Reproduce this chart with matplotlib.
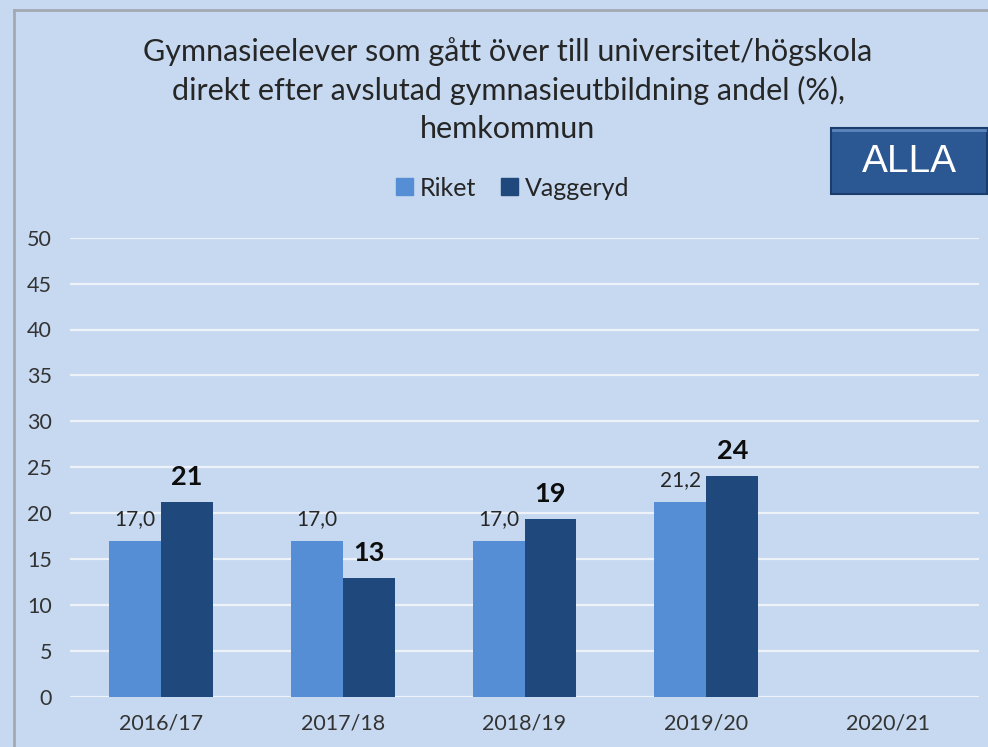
import matplotlib
matplotlib.use("Agg")
import matplotlib.pyplot as plt
from matplotlib.patches import Rectangle, FancyBboxPatch
from matplotlib.lines import Line2D
import numpy as np

# Data
years = ["2016/17", "2017/18", "2018/19", "2019/20", "2020/21"]
riket = [17.0, 17.0, 17.0, 21.2, None]
vaggeryd = [21.2, 12.9, 19.4, 24.0, None]
series_names = ["Riket", "Vaggeryd"]
yticks = list(range(0, 55, 5))

title = ("Gymnasieelever som gått över till universitet/högskola\n"
         "direkt efter avslutad gymnasieutbildning andel (%),\n"
         "hemkommun")
badge_text = "ALLA"

# Styling
bg = "#c6d9f0"
c_riket = "#558ed5"
c_vagg = "#1f497d"
txt = "#262626"
font = ["Lato", "DejaVu Sans"]
plt.rcParams["font.family"] = font

W, H = 988, 747
fig = plt.figure(figsize=(W / 100, H / 100), dpi=100, facecolor=bg)

def fx(px):
    return px / W

def fy(py):
    return 1 - py / H

ax = fig.add_axes([fx(70), fy(696.7), fx(979) - fx(70), fy(237.7) - fy(696.7)])
ax.set_facecolor(bg)

x = np.arange(len(years))
bw = 0.286
r_vals = np.array([np.nan if v is None else v for v in riket])
v_vals = np.array([np.nan if v is None else v for v in vaggeryd])
ax.bar(x - bw / 2, r_vals, width=bw, color=c_riket, zorder=3, label=series_names[0])
ax.bar(x + bw / 2, v_vals, width=bw, color=c_vagg, zorder=3, label=series_names[1])

for xi, rv, vv in zip(x, riket, vaggeryd):
    if rv is not None:
        ax.annotate(f"{rv:.1f}".replace(".", ","), (xi - bw / 2, rv),
                    xytext=(0, 22), textcoords="offset pixels",
                    ha="center", va="center", fontsize=15, color=txt)
    if vv is not None:
        ax.annotate(f"{vv:.0f}", (xi + bw / 2, vv),
                    xytext=(0, 25), textcoords="offset pixels",
                    ha="center", va="center", fontsize=19.5,
                    fontweight="bold", color="#0d0d0d")

ax.set_xlim(-0.5, len(years) - 0.5)
ax.set_ylim(0, 50)
ax.set_yticks(yticks)
ax.set_xticks(x)
ax.set_xticklabels(years)
ax.tick_params(axis="both", length=0, labelsize=15.5, colors="#333333")
ax.tick_params(axis="y", pad=13)
ax.tick_params(axis="x", pad=12)
ax.grid(axis="y", color="#eef3fa", linewidth=1.6, zorder=0)
ax.set_axisbelow(True)
for s in ax.spines.values():
    s.set_visible(False)

# Title
fig.text(fx(508), fy(90), title, ha="center", va="center",
         fontsize=22, color=txt, linespacing=1.42)

# Legend
leg = fig.legend(handles=[Rectangle((0, 0), 1, 1, color=c_riket),
                          Rectangle((0, 0), 1, 1, color=c_vagg)],
                 labels=series_names, loc="center", bbox_to_anchor=(fx(513), fy(188)),
                 ncol=2, frameon=False, fontsize=18, handlelength=0.65,
                 handleheight=0.65, handletextpad=0.3, columnspacing=1.0,
                 labelcolor=txt)

# Badge
badge = FancyBboxPatch((fx(831), fy(194)), fx(987) - fx(831), fy(128) - fy(194),
                       boxstyle="square,pad=0", transform=fig.transFigure,
                       facecolor="#2b5893", edgecolor="#1b3d6e", linewidth=1.5,
                       zorder=5)
fig.patches.append(badge)
fig.add_artist(Line2D([fx(833), fx(985)], [fy(130), fy(130)],
                      color="#5d86bd", linewidth=2, zorder=6))
fig.text(fx(909), fy(162), badge_text, ha="center", va="center", fontsize=28,
         color="white", family=["Liberation Sans", "DejaVu Sans"], zorder=7)

# Frame lines
fig.add_artist(Line2D([fx(13.5), fx(13.5)], [fy(9.5), 0], color="#a3a8b3",
                      linewidth=2))
fig.add_artist(Line2D([fx(13.5), 1], [fy(9.5), fy(9.5)], color="#a3a8b3",
                      linewidth=2))

fig.savefig("out.png", dpi=100, facecolor=bg)
